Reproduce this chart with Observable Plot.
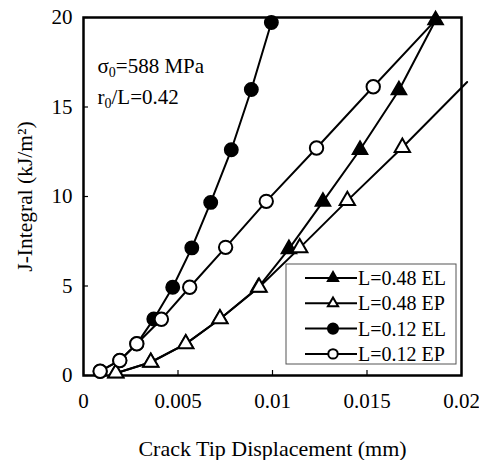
<!DOCTYPE html>
<html><head><meta charset="utf-8">
<script src="https://cdn.jsdelivr.net/npm/d3@7"></script>
<script src="https://cdn.jsdelivr.net/npm/@observablehq/plot@0.6"></script>
<style>body{margin:0;background:#fff}</style>
</head><body><div id="chart"></div>
<script>
const xTicks = [0, 0.005, 0.01, 0.015, 0.02];
const xTickLabels = ["0", "0.005", "0.01", "0.015", "0.02"];
const yTicks = [0, 5, 10, 15, 20];
const yTickLabels = ["0", "5", "10", "15", "20"];

const seriesNames = ["L=0.48 EL", "L=0.48 EP", "L=0.12 EL", "L=0.12 EP"];

const xEL48 = [0.00171, 0.00356, 0.00541, 0.00722, 0.00925, 0.01087, 0.01267, 0.01463, 0.01669, 0.01863];
const yEL48 = [0.13, 0.74, 1.77, 3.16, 4.93, 7.07, 9.71, 12.61, 15.94, 19.85];

const xEP48 = [0.00171, 0.00356, 0.00541, 0.00722, 0.00929, 0.01144, 0.01396, 0.01687, 0.0203];
const yEP48 = [0.13, 0.74, 1.77, 3.16, 4.93, 7.13, 9.77, 12.74, 16.4];

const xEL12 = [0.00088, 0.00192, 0.00282, 0.00372, 0.00472, 0.00573, 0.00673, 0.00782, 0.00888, 0.00994];
const yEL12 = [0.24, 0.84, 1.77, 3.16, 4.93, 7.13, 9.67, 12.61, 15.98, 19.72];

const xEP12 = [0.00088, 0.00192, 0.00282, 0.00412, 0.00562, 0.00752, 0.00967, 0.01233, 0.01533, 0.01863];
const yEP12 = [0.24, 0.84, 1.77, 3.14, 4.93, 7.16, 9.73, 12.71, 16.13, 19.85];

const xTitle = "Crack Tip Displacement (mm)";
const yTitle = "J-Integral (kJ/m²)";
const note1 = "σ0=588 MPa";
const note2 = "r0/L=0.42";

function rows(name, xs, ys) {
  return xs.map((x, i) => ({series: name, x, y: ys[i], i, n: xs.length}));
}
const dEL48 = rows(seriesNames[0], xEL48, yEL48);
const dEP48 = rows(seriesNames[1], xEP48, yEP48);
const dEL12 = rows(seriesNames[2], xEL12, yEL12);
const dEP12 = rows(seriesNames[3], xEP12, yEP12);
const all = [...dEL48, ...dEP48, ...dEL12, ...dEP12];
// last points of the EP series carry no marker
const marked = d => !(d.series.endsWith("EP") && d.i === d.n - 1);

const chart = Plot.plot({
  width: 479, height: 460,
  marginLeft: 83, marginRight: 18, marginTop: 17, marginBottom: 85,
  style: {fontFamily: "Liberation Serif", fontSize: "21px", background: "#fff", color: "#000"},
  x: {domain: [0, 0.02]},
  y: {domain: [0, 20]},
  marks: [
    Plot.axisX(xTicks, {tickSize: 5, dy: -5, tickFormat: () => "", label: null, strokeWidth: 1.2}),
    Plot.axisY(yTicks, {tickSize: 5, dx: 5, tickFormat: () => "", label: null, strokeWidth: 1.2}),
    Plot.axisX(xTicks, {tickSize: 0, tickPadding: 18, fontSize: 21, tickFormat: d => xTickLabels[xTicks.indexOf(d)], label: null}),
    Plot.axisY(yTicks, {tickSize: 0, tickPadding: 11, fontSize: 21, tickFormat: d => yTickLabels[yTicks.indexOf(d)], label: null}),
    Plot.frame({stroke: "#000", strokeWidth: 2.5}),
    Plot.line(all, {x: "x", y: "y", z: "series", stroke: "#000", strokeWidth: 2}),
    Plot.dot(dEL48.filter(marked), {x: "x", y: "y", symbol: "triangle", r: 5.7, fill: "#000", stroke: "#000", strokeWidth: 1.5}),
    Plot.dot(dEP48.filter(marked), {x: "x", y: "y", symbol: "triangle", r: 5.7, fill: "#fff", stroke: "#000", strokeWidth: 2}),
    Plot.dot(dEL12.filter(marked), {x: "x", y: "y", symbol: "circle", r: 6.7, fill: "#000", stroke: "#000", strokeWidth: 1.5}),
    Plot.dot(dEP12.filter(marked), {x: "x", y: "y", symbol: "circle", r: 6.7, fill: "#fff", stroke: "#000", strokeWidth: 2}),
    Plot.text([xTitle], {frameAnchor: "bottom", dy: 73, lineAnchor: "middle", textAnchor: "middle", fontSize: 22}),
    Plot.text([yTitle], {frameAnchor: "left", rotate: -90, dx: -58, lineAnchor: "middle", textAnchor: "middle", fontSize: 21.5}),
    Plot.text([note1], {frameAnchor: "top-left", dx: 14, dy: 41, textAnchor: "start", fontSize: 21}),
    Plot.text([note2], {frameAnchor: "top-left", dx: 14, dy: 72, textAnchor: "start", fontSize: 21})
  ]
});
document.getElementById("chart").appendChild(chart);

// subscripts for the annotations
const svg = d3.select(chart);
svg.selectAll("text").each(function() {
  const t = d3.select(this);
  const s = this.textContent;
  if (s === note1 || s === note2) {
    const head = s.slice(0, 1), rest = s.slice(2);
    t.text(null);
    t.append("tspan").text(head);
    t.append("tspan").attr("font-size", "14").attr("dy", "4").text("0");
    t.append("tspan").attr("dy", "-4").text(rest);
  }
});

// legend
const lx = 286, ly = 264, lw = 170, lh = 100;
const lg = svg.append("g").attr("font-family", "Liberation Serif").attr("font-size", 20).attr("text-anchor", "start");
lg.append("rect").attr("x", lx).attr("y", ly).attr("width", lw).attr("height", lh)
  .attr("fill", "#fff").attr("stroke", "#555").attr("stroke-width", 1);
const legendSym = [
  {sym: d3.symbolTriangle, fill: "#000", size: 45},
  {sym: d3.symbolTriangle, fill: "#fff", size: 45},
  {sym: d3.symbolCircle, fill: "#000", size: 80},
  {sym: d3.symbolCircle, fill: "#fff", size: 70}
];
seriesNames.forEach((name, k) => {
  const cy = 278 + k * 25.3;
  lg.append("line").attr("x1", 305).attr("x2", 357).attr("y1", cy).attr("y2", cy)
    .attr("stroke", "#000").attr("stroke-width", 2);
  lg.append("path").attr("d", d3.symbol(legendSym[k].sym, legendSym[k].size)())
    .attr("transform", `translate(333,${cy})`)
    .attr("fill", legendSym[k].fill).attr("stroke", "#000").attr("stroke-width", 2);
  lg.append("text").attr("x", 358).attr("y", cy).attr("dy", "0.35em").attr("text-anchor", "start").text(name);
});
</script>
</body></html>
